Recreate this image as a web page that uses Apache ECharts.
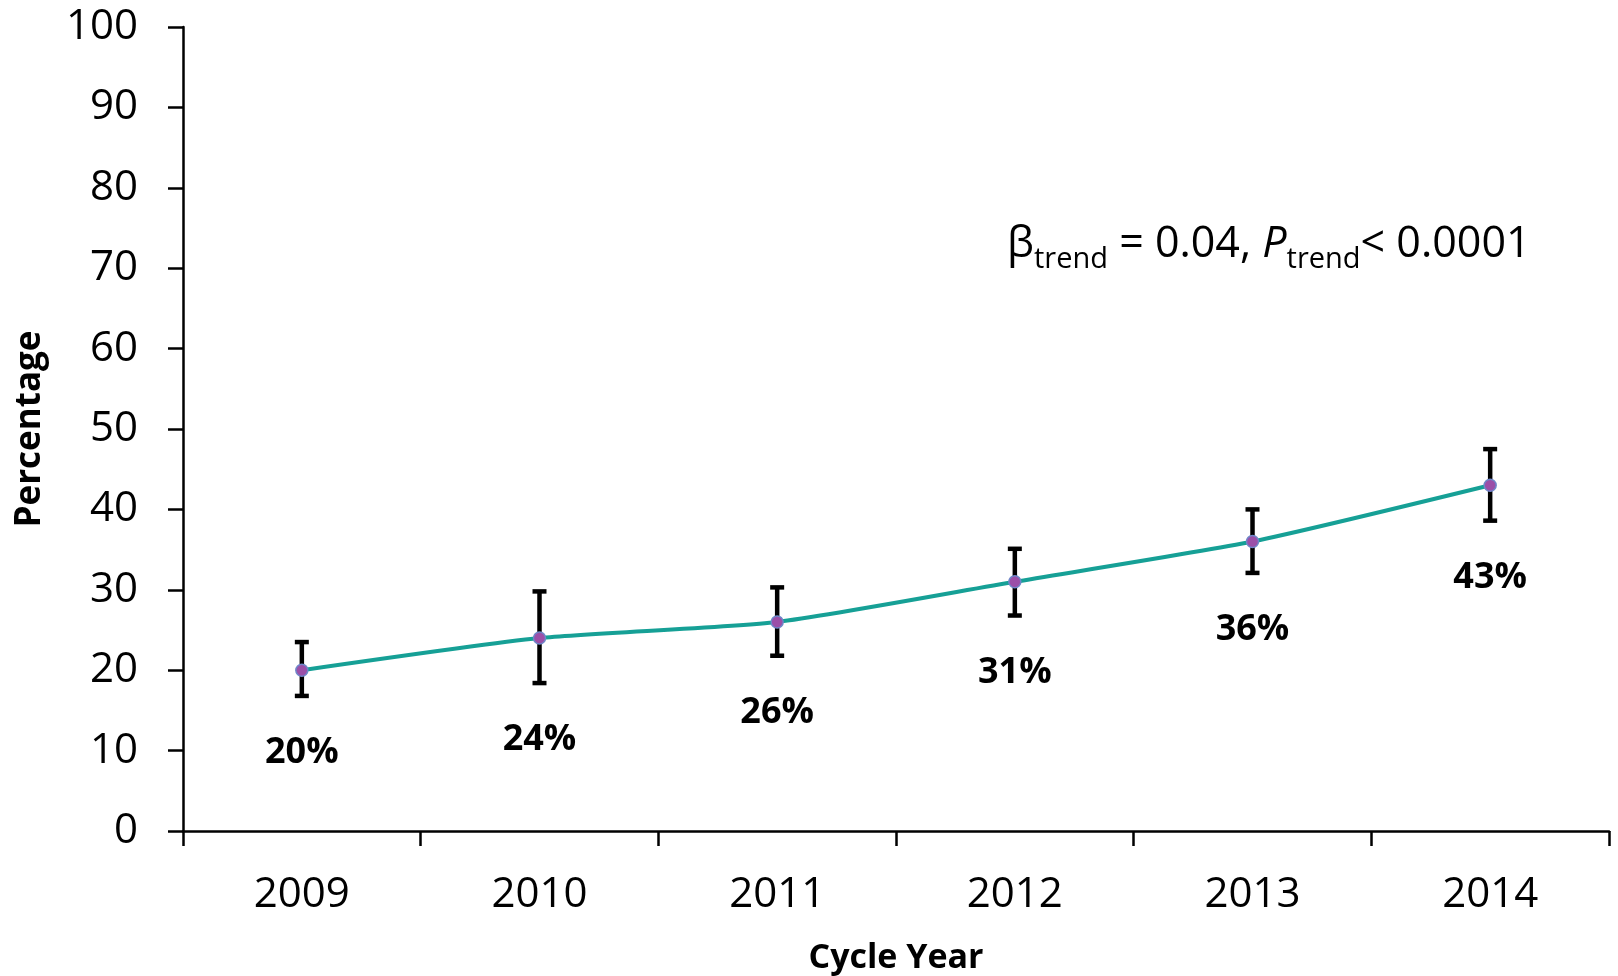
<!DOCTYPE html>
<html>
<head>
<meta charset="utf-8">
<title>Cycle Year trend</title>
<script src="https://cdn.jsdelivr.net/npm/echarts@6/dist/echarts.min.js"></script>
<style>
  html, body { margin: 0; padding: 0; background: #fff; }
  #main { width: 1618px; height: 976px; }
</style>
</head>
<body>
<div id="main"></div>
<script>
// 数据
var years = ['2009', '2010', '2011', '2012', '2013', '2014'];
var pct = [20, 24, 26, 31, 36, 43];
var ciLow = [16.8, 18.4, 21.8, 26.8, 32.1, 38.6];
var ciHigh = [23.5, 29.8, 30.3, 35.1, 40.0, 47.5];
var yTicks = [0, 10, 20, 30, 40, 50, 60, 70, 80, 90, 100];

var fontName = '"Open Sans", "Noto Sans", sans-serif';

var errData = [];
for (var i = 0; i < years.length; i++) {
  errData.push([i, ciLow[i], ciHigh[i], pct[i]]);
}

// 误差线
var renderErrorBar = function (params, api) {
  var x = api.value(0);
  var lo = api.coord([x, api.value(1)]);
  var hi = api.coord([x, api.value(2)]);
  var cap = 7;
  var st = { stroke: '#000', lineWidth: 4.5 };
  return {
    type: 'group',
    children: [
      { type: 'line', shape: { x1: hi[0], y1: hi[1], x2: lo[0], y2: lo[1] }, style: st },
      { type: 'line', shape: { x1: hi[0] - cap, y1: hi[1], x2: hi[0] + cap, y2: hi[1] }, style: st },
      { type: 'line', shape: { x1: lo[0] - cap, y1: lo[1], x2: lo[0] + cap, y2: lo[1] }, style: st }
    ]
  };
};

// 百分比标签（放在误差线下方）
var renderPctLabel = function (params, api) {
  var x = api.value(0);
  var lo = api.coord([x, api.value(1)]);
  return {
    type: 'text',
    x: lo[0],
    y: lo[1] + 57,
    style: {
      text: api.value(3) + '%',
      fill: '#000',
      font: 'bold 36px ' + fontName,
      align: 'center',
      verticalAlign: 'middle'
    }
  };
};

var myChart = echarts.init(document.getElementById('main'));

var option = {
  backgroundColor: '#fff',
  animation: false,
  grid: {
    left: 183,
    right: 9,
    top: 27,
    bottom: 145,
    containLabel: false,
    outerBoundsMode: 'none'
  },
  xAxis: {
    type: 'category',
    data: years,
    boundaryGap: true,
    name: 'Cycle Year',
    nameLocation: 'middle',
    nameGap: 110,
    nameTextStyle: { fontFamily: fontName, fontSize: 34, fontWeight: 'bold', color: '#000' },
    axisLine: { lineStyle: { color: '#000', width: 2.5 } },
    axisTick: { show: true, length: 15, alignWithLabel: false, lineStyle: { color: '#000', width: 2.5 } },
    axisLabel: { fontFamily: fontName, fontSize: 42, color: '#000', margin: 43 },
    splitLine: { show: false }
  },
  yAxis: {
    type: 'value',
    min: yTicks[0],
    max: yTicks[yTicks.length - 1],
    interval: yTicks[1] - yTicks[0],
    name: 'Percentage',
    nameLocation: 'middle',
    nameGap: 135,
    nameRotate: 90,
    nameTextStyle: { fontFamily: fontName, fontSize: 35, fontWeight: 'bold', color: '#000' },
    axisLine: { show: true, lineStyle: { color: '#000', width: 2.5 } },
    axisTick: { show: true, length: 15, lineStyle: { color: '#000', width: 2.5 } },
    axisLabel: { fontFamily: fontName, fontSize: 42, color: '#000', margin: 45 },
    splitLine: { show: false }
  },
  graphic: [
    {
      type: 'text',
      left: 1007,
      top: 223,
      style: {
        text: '{m|β}{s|trend}{m| = 0.04, }{i|P}{s|trend}{m|< 0.0001}',
        rich: {
          m: { fontFamily: fontName, fontSize: 43, color: '#000', lineHeight: 60 },
          i: { fontFamily: fontName, fontSize: 43, fontStyle: 'italic', color: '#000', lineHeight: 60 },
          s: { fontFamily: fontName, fontSize: 29, color: '#000', lineHeight: 32, verticalAlign: 'bottom' }
        }
      }
    }
  ],
  series: [
    {
      name: 'err',
      type: 'custom',
      renderItem: renderErrorBar,
      data: errData,
      z: 1,
      silent: true
    },
    {
      name: 'Percentage',
      type: 'line',
      data: pct,
      smooth: 0.2,
      symbol: 'circle',
      symbolSize: 12,
      lineStyle: { color: '#16a096', width: 4 },
      itemStyle: { color: '#9b4fa8', borderColor: '#6f86c9', borderWidth: 1.5 },
      z: 3
    },
    {
      name: 'labels',
      type: 'custom',
      renderItem: renderPctLabel,
      data: errData,
      z: 4,
      silent: true
    }
  ]
};

myChart.setOption(option);
</script>
</body>
</html>
